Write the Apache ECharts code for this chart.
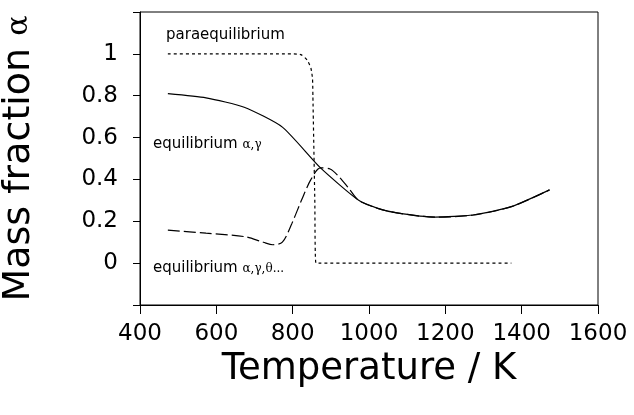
<!DOCTYPE html>
<html>
<head>
<meta charset="utf-8">
<script src="https://cdn.jsdelivr.net/npm/echarts@6/dist/echarts.min.js"></script>
<style>
  html, body { margin: 0; padding: 0; background: #fff; }
  #chart { width: 634px; height: 415px; }
</style>
</head>
<body>
<div id="chart"></div>
<script>
// values (temperature K, mass fraction)
const eqTemps = [473, 573, 673, 773, 873, 973, 1023, 1073, 1173, 1273, 1373, 1473];
const eqValues = [0.81, 0.79, 0.745, 0.65, 0.455, 0.30, 0.262, 0.24, 0.22, 0.23, 0.27, 0.35];

const eqThetaTemps = [473, 573, 673, 723, 748, 773, 798, 823, 848, 873, 898, 923, 948, 973, 1023, 1073, 1173, 1273, 1373, 1473];
const eqThetaValues = [0.158, 0.143, 0.127, 0.10, 0.088, 0.10, 0.19, 0.30, 0.40, 0.455, 0.45, 0.41, 0.355, 0.30, 0.262, 0.24, 0.22, 0.23, 0.27, 0.35];

const paraTemps = [473, 573, 673, 773, 803, 823, 838, 848, 852, 853, 858, 861, 873, 973, 1073, 1173, 1273, 1373];
const paraValues = [1, 1, 1, 1, 1, 0.995, 0.97, 0.93, 0.88, 0.80, 0.30, 0, 0, 0, 0, 0, 0, 0];

const xTicks = [400, 600, 800, 1000, 1200, 1400, 1600];
const yTicks = [0, 0.2, 0.4, 0.6, 0.8, 1];

const zip = (xs, ys) => xs.map((x, i) => [x, ys[i]]);

const font = 'DejaVu Sans';
const chart = echarts.init(document.getElementById('chart'));

const option = {
  animation: false,
  grid: {
    left: 140, right: 36, top: 12, bottom: 110,
    outerBoundsMode: 'none',
    containLabel: false,
    show: true, borderColor: '#000', borderWidth: 1
  },
  xAxis: {
    type: 'value',
    min: xTicks[0], max: xTicks[xTicks.length - 1], interval: 200,
    name: 'Temperature / K',
    nameLocation: 'middle',
    nameGap: 46,
    nameTextStyle: { fontFamily: font, fontSize: 37, color: '#000' },
    axisLine: { show: true, onZero: false, lineStyle: { color: '#000', width: 1 } },
    axisTick: { show: true, inside: false, length: 9, lineStyle: { color: '#000', width: 1 } },
    axisLabel: {
      fontFamily: font, fontSize: 23, color: '#000', margin: 18,
      formatter: v => String(v)
    },
    splitLine: { show: false }
  },
  yAxis: {
    type: 'value',
    min: -0.2, max: 1.2, interval: 0.2,
    name: 'Mass fraction {g|α}',
    nameLocation: 'middle',
    nameGap: 102,
    nameTextStyle: {
      fontFamily: font, fontSize: 38, color: '#000',
      rich: { g: { fontFamily: 'DejaVu Serif', fontSize: 30, color: '#000' } }
    },
    axisLine: { show: true, onZero: false, lineStyle: { color: '#000', width: 1 } },
    axisTick: { show: true, inside: false, length: 7, lineStyle: { color: '#000', width: 1 } },
    axisLabel: {
      fontFamily: font, fontSize: 23, color: '#000', margin: 22,
      formatter: v => {
        const r = Math.round(v * 10) / 10;
        return yTicks.indexOf(r) >= 0 ? String(r) : '';
      }
    },
    splitLine: { show: false }
  },
  graphic: [
    {
      type: 'text', left: 166, top: 28,
      style: { text: 'paraequilibrium', font: '15px "DejaVu Sans"', fill: '#000' }
    },
    {
      type: 'text', left: 153, top: 137,
      style: {
        text: 'equilibrium {g|α,γ}', font: '15px "DejaVu Sans"', fill: '#000',
        rich: { g: { font: '12px "DejaVu Serif"', fill: '#000' } }
      }
    },
    {
      type: 'text', left: 153, top: 261,
      style: {
        text: 'equilibrium {g|α,γ,θ...}', font: '15px "DejaVu Sans"', fill: '#000',
        rich: { g: { font: '12px "DejaVu Serif"', fill: '#000' } }
      }
    }
  ],
  series: [
    {
      name: 'equilibrium α,γ',
      type: 'line',
      data: zip(eqTemps, eqValues),
      showSymbol: false,
      smooth: 0.2,
      lineStyle: { color: '#000', width: 1.2, type: 'solid' }
    },
    {
      name: 'equilibrium α,γ,θ',
      type: 'line',
      data: zip(eqThetaTemps, eqThetaValues),
      showSymbol: false,
      smooth: 0.3,
      lineStyle: { color: '#000', width: 1.2, type: [12, 4] }
    },
    {
      name: 'paraequilibrium',
      type: 'line',
      data: zip(paraTemps, paraValues),
      showSymbol: false,
      smooth: 0.2,
      lineStyle: { color: '#000', width: 1.2, type: [3, 3] }
    }
  ]
};

chart.setOption(option);
</script>
</body>
</html>
